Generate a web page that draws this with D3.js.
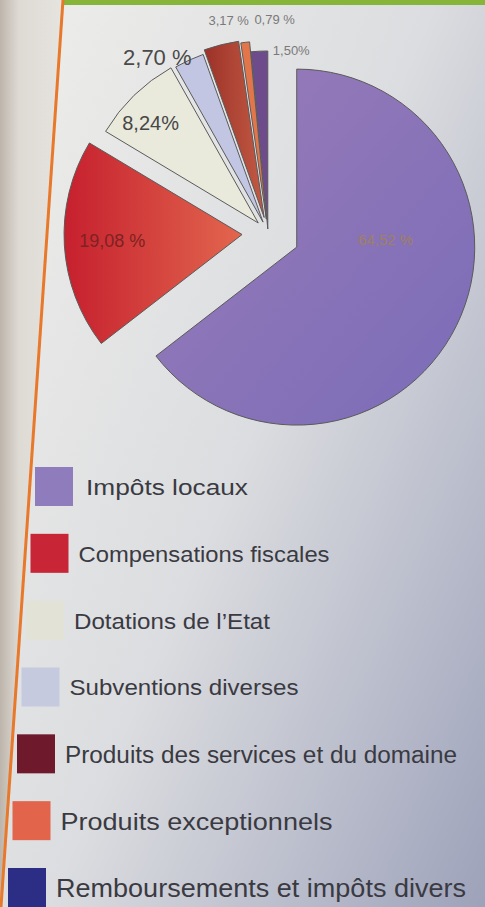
<!DOCTYPE html>
<html>
<head>
<meta charset="utf-8">
<script src="https://cdn.jsdelivr.net/npm/d3@7"></script>
<style>
  html, body { margin: 0; padding: 0; background: #e6e6e4; }
  svg { display: block; font-family: "Liberation Sans", Arial, sans-serif; }
</style>
</head>
<body>
<div id="chart"></div>
<script>
// --- data ---
const categories = [
  'Impôts locaux',
  'Compensations fiscales',
  'Dotations de l\u2019Etat',
  'Subventions diverses',
  'Produits des services et du domaine',
  'Produits exceptionnels',
  'Remboursements et impôts divers'
];
const shares = [64.52, 19.08, 8.24, 2.70, 3.17, 0.79, 1.50];
const shareLabels = ['64,52 %', '19,08 %', '8,24%', '2,70 %', '3,17 %', '0,79 %', '1,50%'];

// --- styles ---
const pieColors = ['#8b72b4', '#d8443e', '#e9e9dc', '#c3c6e2', '#b0463a', '#e2764a', '#6e4c8c'];
const legendColors = ['#8f7cbc', '#c82636', '#e2e3d6', '#c6cadf', '#6e1a2c', '#e2644a', '#2c2e86'];
const explode = [32, 26, 14, 12, 16, 14, 4];
// label placement: radius from pie centre, angle nudge (deg), font size, colour
const labelR = [118, 156, 160, 206, 215, 213, 183];
const labelDA = [-22, 0, -3, -8, 3.4, 8.6, 10];
const labelSize = [15, 18, 20, 22, 13, 13, 13];
const labelFill = ['#a08060', '#7e2222', '#474747', '#4a4a4a', '#7a7a7a', '#7a7a7a', '#7a7a7a'];
// printed legend: rows nearer the camera look bigger
const legendFont = [22.5, 22.5, 22.5, 22.5, 23.5, 24.5, 25.5];
const legendTextW = [162, 251, 196, 229, 392, 272, 410];

const W = 485, H = 907;
const cx = 268, cy = 233, R = 178;

const svg = d3.select('#chart').append('svg').attr('width', W).attr('height', H);
const defs = svg.append('defs');

// page background (photo of a printed page)
const bg = defs.append('linearGradient').attr('id', 'bg').attr('x1', 0).attr('y1', 0.2).attr('x2', 1).attr('y2', 1);
bg.append('stop').attr('offset', 0).attr('stop-color', '#ebebe9');
bg.append('stop').attr('offset', 0.45).attr('stop-color', '#dcdde0');
bg.append('stop').attr('offset', 1).attr('stop-color', '#9da2ba');
svg.append('rect').attr('width', W).attr('height', H).attr('fill', 'url(#bg)');

const side = defs.append('linearGradient').attr('id', 'side').attr('x1', 0).attr('x2', 1);
side.append('stop').attr('offset', 0).attr('stop-color', '#bdb5ab');
side.append('stop').attr('offset', 0.3).attr('stop-color', '#dedad4');
side.append('stop').attr('offset', 1).attr('stop-color', '#e6e4e0');
svg.append('path').attr('d', 'M0,0 L63,0 L1,907 L0,907 Z').attr('fill', 'url(#side)');
svg.append('path').attr('d', 'M63,0 L485,0 L485,5 L63,5 Z').attr('fill', '#86b53a');
svg.append('line').attr('x1', 63).attr('y1', 0).attr('x2', 1).attr('y2', 907)
  .attr('stroke', '#e8782a').attr('stroke-width', 3);

// slice gradients
function grad(id, a, b, x2, y2) {
  const g = defs.append('linearGradient').attr('id', id)
    .attr('x1', 0).attr('y1', 0).attr('x2', x2).attr('y2', y2);
  g.append('stop').attr('offset', 0).attr('stop-color', a);
  g.append('stop').attr('offset', 1).attr('stop-color', b);
}
grad('g0', '#9a7cb8', '#7a6cb8', 1, 1);
grad('g1', '#c6202e', '#e2664e', 1, 0);
grad('g4', '#9c3228', '#c25a44', 1, 0);

const fills = pieColors.map((c, i) => ({0: 'url(#g0)', 1: 'url(#g1)', 4: 'url(#g4)'}[i] || c));

const pie = d3.pie().sort(null).value(d => d);
const arcs = pie(shares);
const arc = d3.arc().innerRadius(0).outerRadius(R);
const mid = d => (d.startAngle + d.endAngle) / 2;

const g = svg.append('g').attr('transform', `translate(${cx},${cy})`);

g.selectAll('path.slice').data(arcs).join('path')
  .attr('class', 'slice')
  .attr('transform', (d, i) => `translate(${Math.sin(mid(d)) * explode[i]},${-Math.cos(mid(d)) * explode[i]})`)
  .attr('d', arc)
  .attr('fill', (d, i) => fills[i])
  .attr('stroke', '#5a5a5a')
  .attr('stroke-width', 1);

g.selectAll('text.lbl').data(arcs).join('text')
  .attr('class', 'lbl')
  .attr('x', (d, i) => Math.sin(mid(d) + labelDA[i] * Math.PI / 180) * labelR[i])
  .attr('y', (d, i) => -Math.cos(mid(d) + labelDA[i] * Math.PI / 180) * labelR[i])
  .attr('text-anchor', 'middle')
  .attr('dominant-baseline', 'middle')
  .attr('font-size', (d, i) => labelSize[i])
  .attr('fill', (d, i) => labelFill[i])
  .text((d, i) => shareLabels[i]);

// legend (page is photographed at an angle, so rows drift left)
const legend = svg.append('g');
const rowY = d3.scalePoint().domain(categories).range([488, 889]);
const rowX = d3.scaleLinear().domain([488, 889]).range([35, 8]);
const rows = legend.selectAll('g').data(categories).join('g')
  .attr('transform', d => `translate(${rowX(rowY(d))},${rowY(d)})`);
rows.append('rect')
  .attr('x', 0).attr('y', -21).attr('width', 38).attr('height', 39)
  .attr('fill', (d, i) => legendColors[i]);
rows.append('text')
  .attr('x', (d, i) => i === 0 ? 51 : 48)
  .attr('y', 1)
  .attr('dominant-baseline', 'middle')
  .attr('font-size', (d, i) => legendFont[i])
  .attr('fill', '#3a3a42')
  .attr('textLength', (d, i) => legendTextW[i])
  .attr('lengthAdjust', 'spacingAndGlyphs')
  .text(d => d);
</script>
</body>
</html>
